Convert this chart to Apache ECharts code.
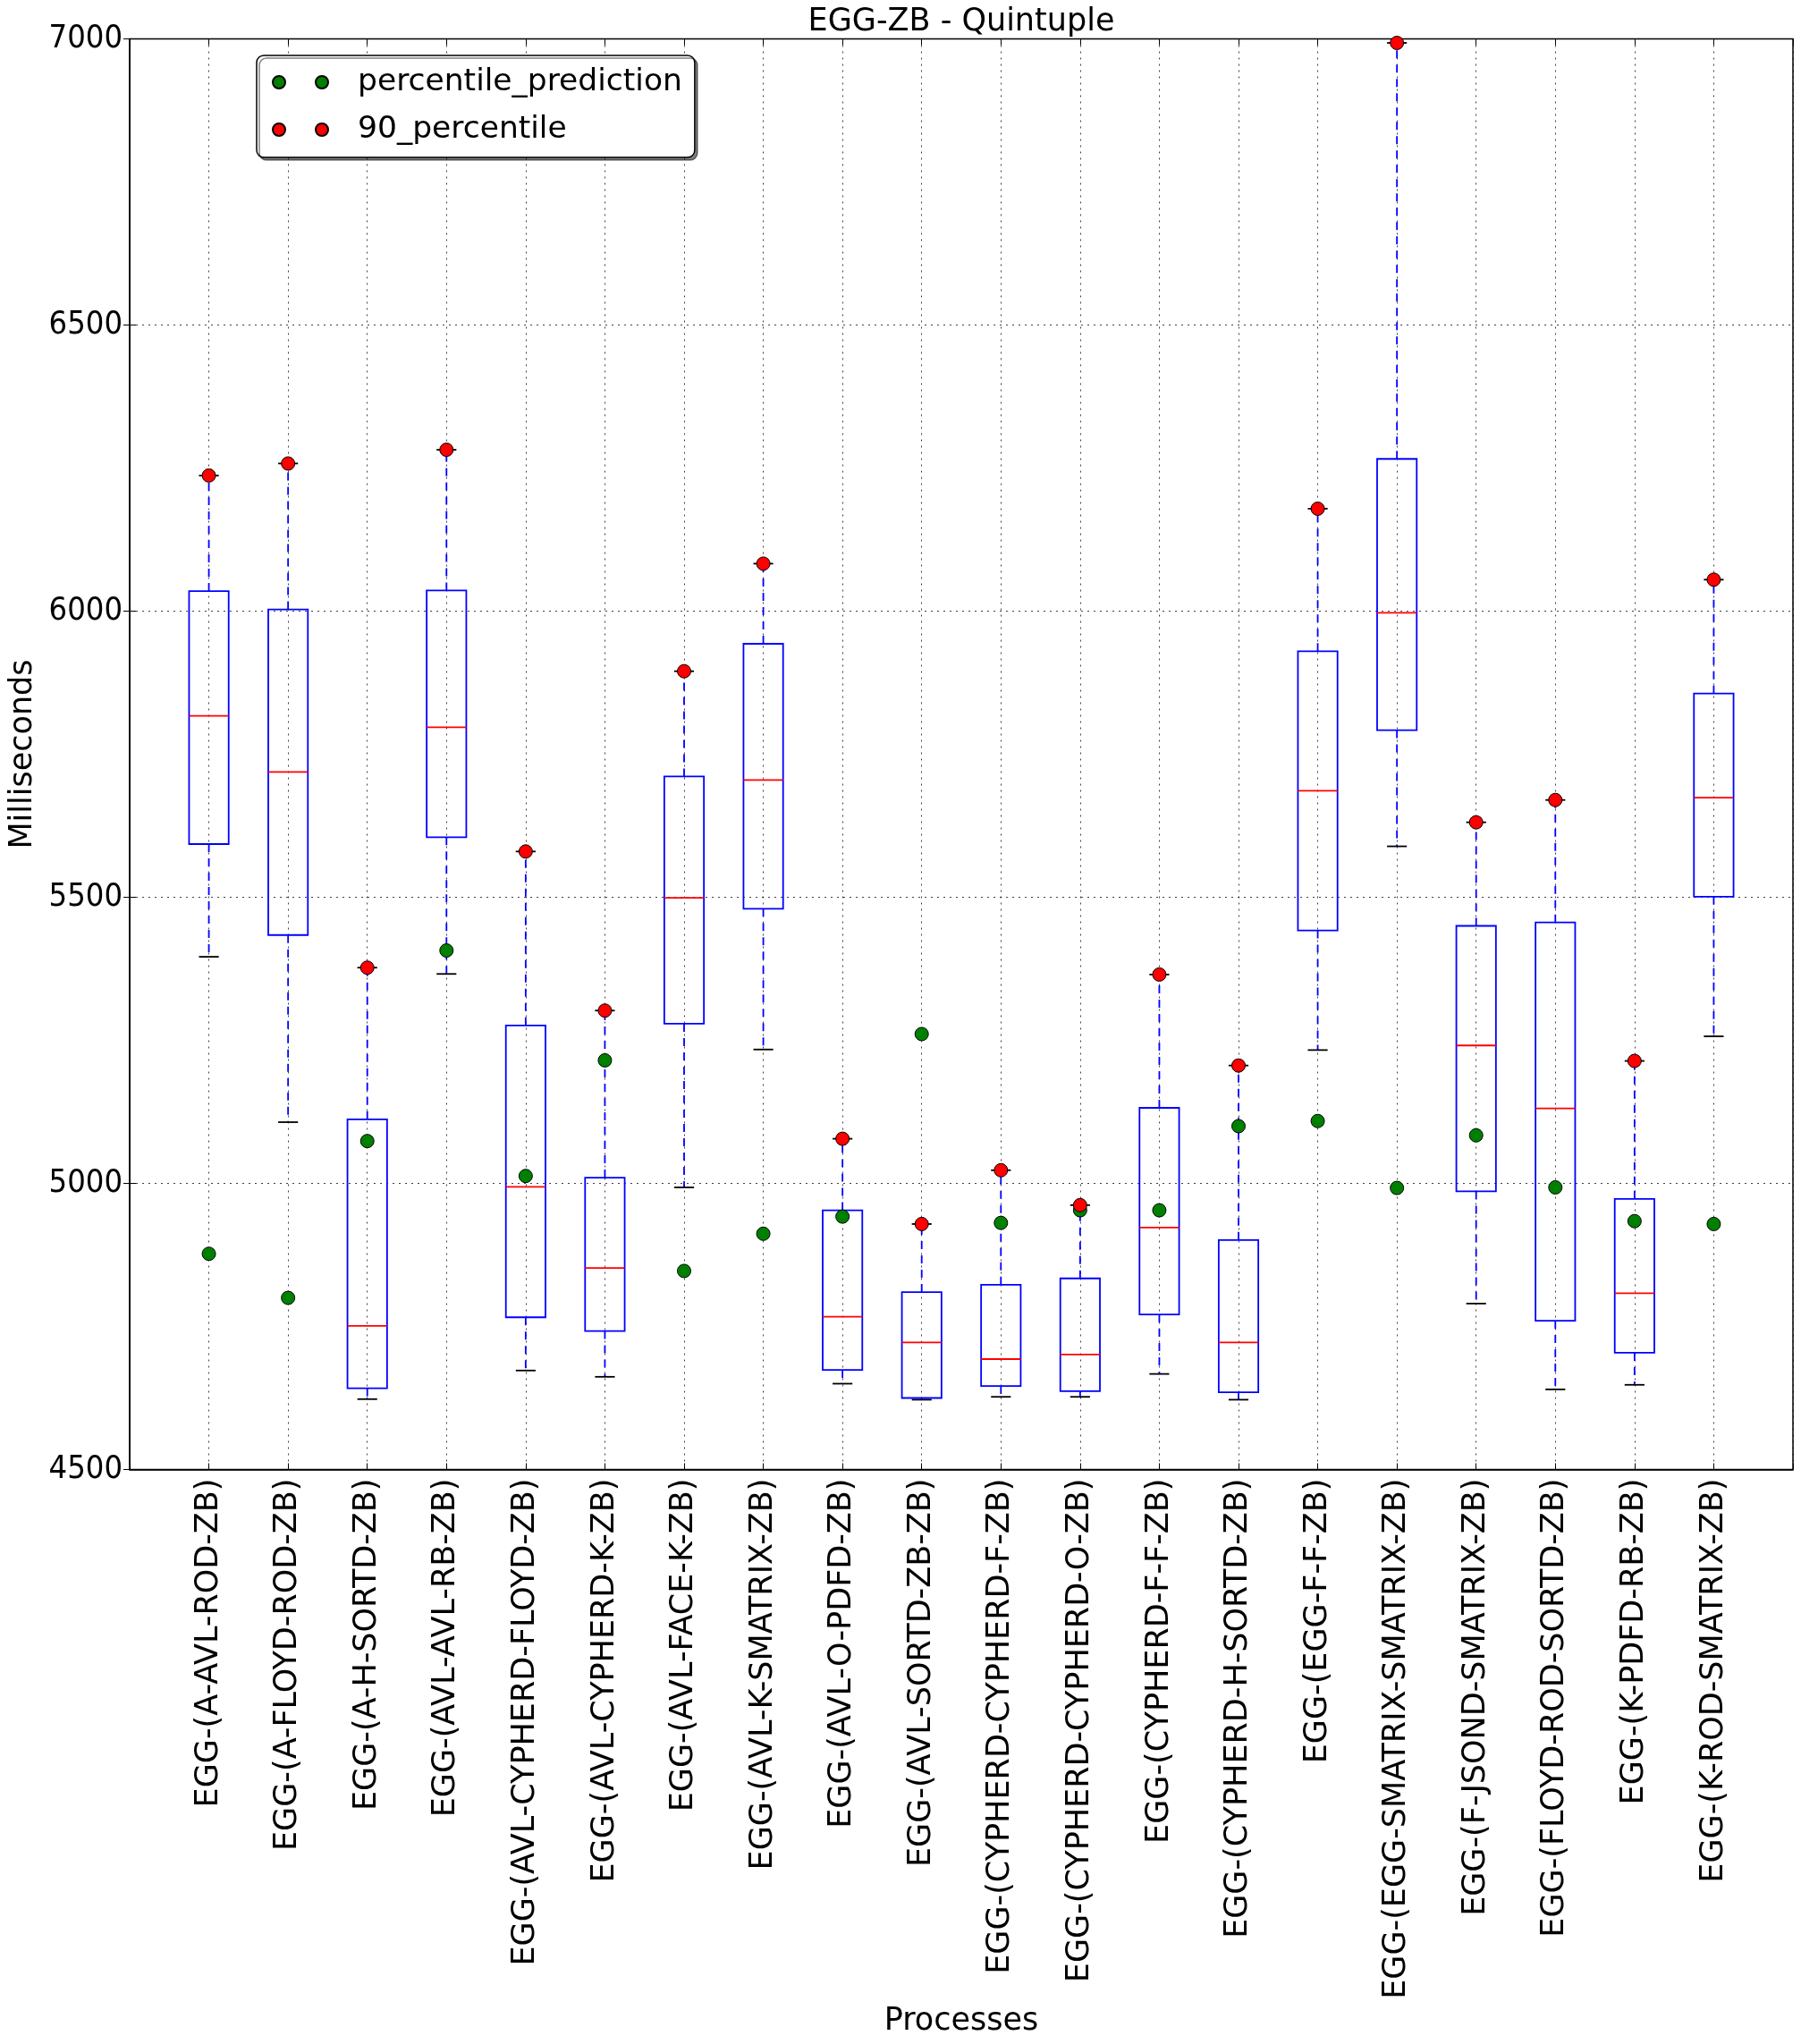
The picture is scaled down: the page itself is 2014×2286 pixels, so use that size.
<!DOCTYPE html>
<html>
<head>
<meta charset="utf-8">
<script src="https://cdn.jsdelivr.net/npm/echarts@6/dist/echarts.min.js"></script>
<style>
html,body{margin:0;padding:0;background:#fff;}
#chart{width:2014px;height:2286px;}
</style>
</head>
<body>
<div id="chart"></div>
<script>
const categories = [
  'EGG-(A-AVL-ROD-ZB)', 'EGG-(A-FLOYD-ROD-ZB)', 'EGG-(A-H-SORTD-ZB)', 'EGG-(AVL-AVL-RB-ZB)',
  'EGG-(AVL-CYPHERD-FLOYD-ZB)', 'EGG-(AVL-CYPHERD-K-ZB)', 'EGG-(AVL-FACE-K-ZB)', 'EGG-(AVL-K-SMATRIX-ZB)',
  'EGG-(AVL-O-PDFD-ZB)', 'EGG-(AVL-SORTD-ZB-ZB)', 'EGG-(CYPHERD-CYPHERD-F-ZB)', 'EGG-(CYPHERD-CYPHERD-O-ZB)',
  'EGG-(CYPHERD-F-F-ZB)', 'EGG-(CYPHERD-H-SORTD-ZB)', 'EGG-(EGG-F-F-ZB)', 'EGG-(EGG-SMATRIX-SMATRIX-ZB)',
  'EGG-(F-JSOND-SMATRIX-ZB)', 'EGG-(FLOYD-ROD-SORTD-ZB)', 'EGG-(K-PDFD-RB-ZB)', 'EGG-(K-ROD-SMATRIX-ZB)'
];
const whiskerLow  = [5396, 5107, 4623, 5366, 4673, 4662, 4993, 5234, 4650, 4622, 4627, 4627, 4667, 4622, 5233, 5589, 4790, 4640, 4648, 5257];
const quartile1   = [5593, 5434, 4642, 5605, 4766, 4742, 5279, 5480, 4674, 4625, 4646, 4637, 4771, 4635, 5442, 5792, 4986, 4760, 4704, 5501];
const medians     = [5817, 5719, 4751, 5797, 4994, 4852, 5499, 5705, 4767, 4722, 4693, 4701, 4923, 4722, 5686, 5997, 5241, 5131, 4808, 5674];
const quartile3   = [6035, 6003, 5112, 6036, 5276, 5010, 5711, 5943, 4953, 4810, 4823, 4834, 5132, 4901, 5930, 6266, 5450, 5456, 4973, 5856];
const whiskerHigh = [6237, 6258, 5377, 6282, 5580, 5302, 5895, 6083, 5078, 4929, 5023, 4962, 5365, 5206, 6179, 6993, 5631, 5670, 5214, 6055];
const percentilePrediction = [4877, 4800, 5074, 5407, 5013, 5215, 4847, 4912, 4942, 5261, 4931, 4953, 4953, 5100, 5109, 4992, 5084, 4993, 4934, 4929];
const percentile90 = [6237, 6258, 5377, 6282, 5580, 5302, 5895, 6083, 5078, 4929, 5023, 4962, 5365, 5206, 6179, 6993, 5631, 5670, 5214, 6055];
const yTicks = [4500, 5000, 5500, 6000, 6500, 7000];

const FONT = 'DejaVu Sans';
const FONT_C = "'DejaVu Sans Condensed', 'DejaVu Sans'";
const boxData = categories.map((c, i) => [i + 1, whiskerLow[i], quartile1[i], medians[i], quartile3[i], whiskerHigh[i]]);
const greenData = categories.map((c, i) => [i + 1, percentilePrediction[i]]);
const redData = categories.map((c, i) => [i + 1, percentile90[i]]);

const chart = echarts.init(document.getElementById('chart'), null, {renderer: 'canvas'});
const twoDots = 'path://M0,7A7,7 0 1 1 14,7A7,7 0 1 1 0,7Z M48,7A7,7 0 1 1 62,7A7,7 0 1 1 48,7Z';

const option = {
  animation: false,
  backgroundColor: '#fff',
  textStyle: {fontFamily: FONT},
  title: {
    text: 'EGG-ZB - Quintuple',
    left: 1075, top: 7, textAlign: 'center', padding: 0,
    textStyle: {fontFamily: FONT, fontSize: 35, fontWeight: 'normal', color: '#000', lineHeight: 35}
  },
  legend: {
    orient: 'vertical',
    left: 287, top: 62,
    padding: [10, 14, 11, 17],
    itemGap: 13,
    itemWidth: 62, itemHeight: 14,
    backgroundColor: '#fff',
    borderColor: '#000', borderWidth: 1.5, borderRadius: 8,
    shadowColor: 'rgba(0,0,0,0.5)', shadowOffsetX: 3, shadowOffsetY: 3, shadowBlur: 0,
    textStyle: {fontFamily: FONT, fontSize: 34.5, color: '#000', lineHeight: 40, padding: [0, 0, 0, 28]},
    data: [
      {name: 'percentile_prediction', icon: twoDots},
      {name: '90_percentile', icon: twoDots}
    ]
  },
  grid: {
    left: 145, right: 9, top: 43.5, bottom: 642.5,
    show: true, borderColor: '#000', borderWidth: 1.5, backgroundColor: 'transparent'
  },
  xAxis: [{
    type: 'value', min: 0, max: 21, interval: 1,
    position: 'bottom',
    name: 'Processes', nameLocation: 'middle', nameGap: 597,
    nameTextStyle: {fontFamily: FONT, fontSize: 35, color: '#000', lineHeight: 35},
    axisLine: {show: true, lineStyle: {color: '#000', width: 1.5}},
    axisTick: {show: true, inside: true, length: 7, lineStyle: {color: '#000', width: 1}},
    axisLabel: {
      rotate: 90, margin: 10, fontFamily: FONT, fontSize: 35, color: '#000',
      formatter: v => categories[Math.round(v) - 1] || ''
    },
    splitLine: {show: true, lineStyle: {color: '#000', width: 1, type: [2, 5], opacity: 0.75}}
  }, {
    type: 'value', min: 0, max: 21, interval: 1, position: 'top',
    axisLine: {show: false}, axisLabel: {show: false}, splitLine: {show: false},
    axisTick: {show: true, inside: true, length: 7, lineStyle: {color: '#000', width: 1}}
  }],
  yAxis: [{
    type: 'value', min: yTicks[0], max: yTicks[yTicks.length - 1], interval: 500,
    name: 'Milliseconds', nameLocation: 'middle', nameGap: 101, nameRotate: 90,
    nameTextStyle: {fontFamily: FONT, fontSize: 35, color: '#000', lineHeight: 35},
    axisLine: {show: true, lineStyle: {color: '#000', width: 1.5}},
    axisTick: {show: true, inside: true, length: 7, lineStyle: {color: '#000', width: 1}},
    axisLabel: {margin: 8, fontFamily: FONT_C, fontSize: 36, color: '#000', formatter: v => String(v)},
    splitLine: {show: true, lineStyle: {color: '#000', width: 1, type: [2, 5], opacity: 0.75}}
  }, {
    type: 'value', min: yTicks[0], max: yTicks[yTicks.length - 1], interval: 500, position: 'right',
    axisLine: {show: false}, axisLabel: {show: false}, splitLine: {show: false},
    axisTick: {show: true, inside: true, length: 7, lineStyle: {color: '#000', width: 1}}
  }],
  series: [{
    type: 'custom',
    name: 'boxes',
    z: 2,
    encode: {x: 0, y: [1, 2, 3, 4, 5]},
    data: boxData,
    renderItem: function (params, api) {
      const x = api.value(0);
      const lo = api.coord([x, api.value(1)]);
      const q1 = api.coord([x, api.value(2)]);
      const md = api.coord([x, api.value(3)]);
      const q3 = api.coord([x, api.value(4)]);
      const hi = api.coord([x, api.value(5)]);
      const bw = api.size([0.5, 0])[0];
      const cw = bw / 2;
      const cx = lo[0];
      const blueDash = {stroke: '#0000ff', lineWidth: 1.8, lineDash: [9, 7], fill: null};
      const black = {stroke: '#000', lineWidth: 1.8, fill: null};
      return {
        type: 'group',
        children: [
          {type: 'line', shape: {x1: cx, y1: q1[1], x2: cx, y2: lo[1]}, style: blueDash},
          {type: 'line', shape: {x1: cx, y1: q3[1], x2: cx, y2: hi[1]}, style: blueDash},
          {type: 'line', shape: {x1: cx - cw / 2, y1: lo[1], x2: cx + cw / 2, y2: lo[1]}, style: black},
          {type: 'line', shape: {x1: cx - cw / 2, y1: hi[1], x2: cx + cw / 2, y2: hi[1]}, style: black},
          {type: 'rect', shape: {x: cx - bw / 2, y: q3[1], width: bw, height: q1[1] - q3[1]},
           style: {stroke: '#0000ff', lineWidth: 1.8, fill: null}},
          {type: 'line', shape: {x1: cx - bw / 2, y1: md[1], x2: cx + bw / 2, y2: md[1]},
           style: {stroke: '#ff0000', lineWidth: 1.8, fill: null}}
        ]
      };
    }
  }, {
    type: 'scatter',
    name: 'percentile_prediction',
    z: 4,
    symbol: 'circle', symbolSize: 15,
    itemStyle: {color: '#008000', borderColor: '#000', borderWidth: 1, opacity: 1},
    data: greenData
  }, {
    type: 'scatter',
    name: '90_percentile',
    z: 5,
    symbol: 'circle', symbolSize: 15,
    itemStyle: {color: '#ff0000', borderColor: '#000', borderWidth: 1, opacity: 1},
    data: redData
  }]
};
chart.setOption(option);
</script>
</body>
</html>
